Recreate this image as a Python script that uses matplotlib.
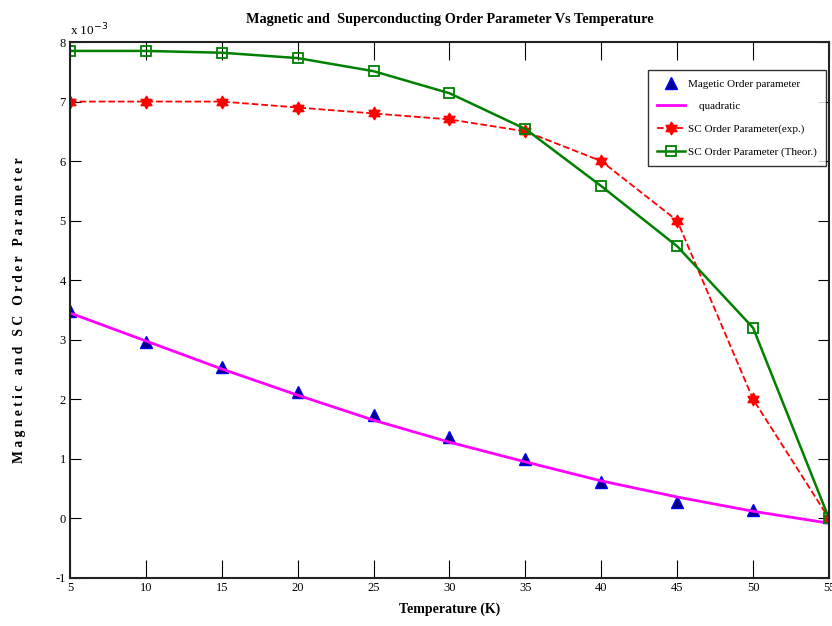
import numpy as np
import matplotlib.pyplot as plt
from matplotlib.path import Path

plt.rcParams['font.family'] = ['Liberation Serif', 'DejaVu Serif']
plt.rcParams['axes.unicode_minus'] = False

# temperature (K)
temp = [5, 10, 15, 20, 25, 30, 35, 40, 45, 50, 55]
# values in units of 1e-3
mag_order = [3.48, 2.96, 2.54, 2.12, 1.73, 1.36, 0.99, 0.61, 0.27, 0.14, 0.02]
quad_fit = [3.45, 2.98, 2.51, 2.07, 1.65, 1.28, 0.95, 0.63, 0.36, 0.12, -0.08]
sc_exp = [7.0, 7.0, 7.0, 6.9, 6.8, 6.7, 6.5, 6.0, 5.0, 2.0, 0.0]
sc_theor = [7.85, 7.85, 7.82, 7.73, 7.51, 7.14, 6.54, 5.58, 4.57, 3.2, 0.0]

xticks = [5, 10, 15, 20, 25, 30, 35, 40, 45, 50, 55]
yticks = [-1, 0, 1, 2, 3, 4, 5, 6, 7, 8]

# hexagram marker like MATLAB
ang = np.deg2rad(np.arange(12) * 30 + 90)
rad = np.where(np.arange(12) % 2 == 0, 1.0, 0.58)
hexa = Path(np.column_stack([rad * np.cos(ang), rad * np.sin(ang)]).tolist() + [[0, 1]], closed=True)

fig = plt.figure(figsize=(8.32, 6.26), dpi=100)
ax = fig.add_axes([0.0841, 0.0767, 0.9123, 0.8562])

ax.plot(temp, mag_order, linestyle='none', marker='^', color='#0000cc',
        markerfacecolor='#00008b', markeredgecolor='#0000ff', markersize=8,
        label='Magetic Order parameter')
ax.plot(temp, quad_fit, color='#ff00ff', linewidth=2, label='    quadratic')
ax.plot(temp, sc_exp, color='#ff0000', linestyle='--', linewidth=1.3,
        marker=hexa, markersize=9, markerfacecolor='#ff0000', markeredgecolor='#ff0000',
        label='SC Order Parameter(exp.)')
ax.plot(temp, sc_theor, color='#008000', linewidth=1.8, marker='s', markersize=7,
        markerfacecolor='none', markeredgecolor='#008000', markeredgewidth=1.3,
        label='SC Order Parameter (Theor.)')

ax.set_xlim(5, 55)
ax.set_ylim(-1, 8)
ax.set_xticks(xticks)
ax.set_yticks(yticks)
ax.tick_params(direction='in', length=8, labelsize=9, top=True, right=True, pad=3)
ax.tick_params(axis='x', length=13)
for s in ax.spines.values():
    s.set_linewidth(1.5)
    s.set_color('#222222')

ax.text(0.0, 1.012, r'x 10$^{-3}$', transform=ax.transAxes, fontsize=9.5)

ax.set_title('Magnetic and  Superconducting Order Parameter Vs Temperature',
             fontsize=10.3, fontweight='bold', pad=14)
ax.set_xlabel('Temperature (K)', fontsize=10, fontweight='bold', labelpad=6)
ax.set_ylabel(' '.join('Magnetic and SC Order Parameter'), fontsize=9.8,
              fontweight='bold')
ax.yaxis.set_label_coords(-0.058, 0.5)

leg = ax.legend(loc='upper right', bbox_to_anchor=(0.996, 0.948), fontsize=8,
                frameon=True, fancybox=False, edgecolor='black', borderpad=0.8,
                handlelength=2.5, labelspacing=1.15, numpoints=1, handletextpad=0.3,
                borderaxespad=0)
leg.get_frame().set_linewidth(1.0)

fig.savefig('out.png', dpi=100)
